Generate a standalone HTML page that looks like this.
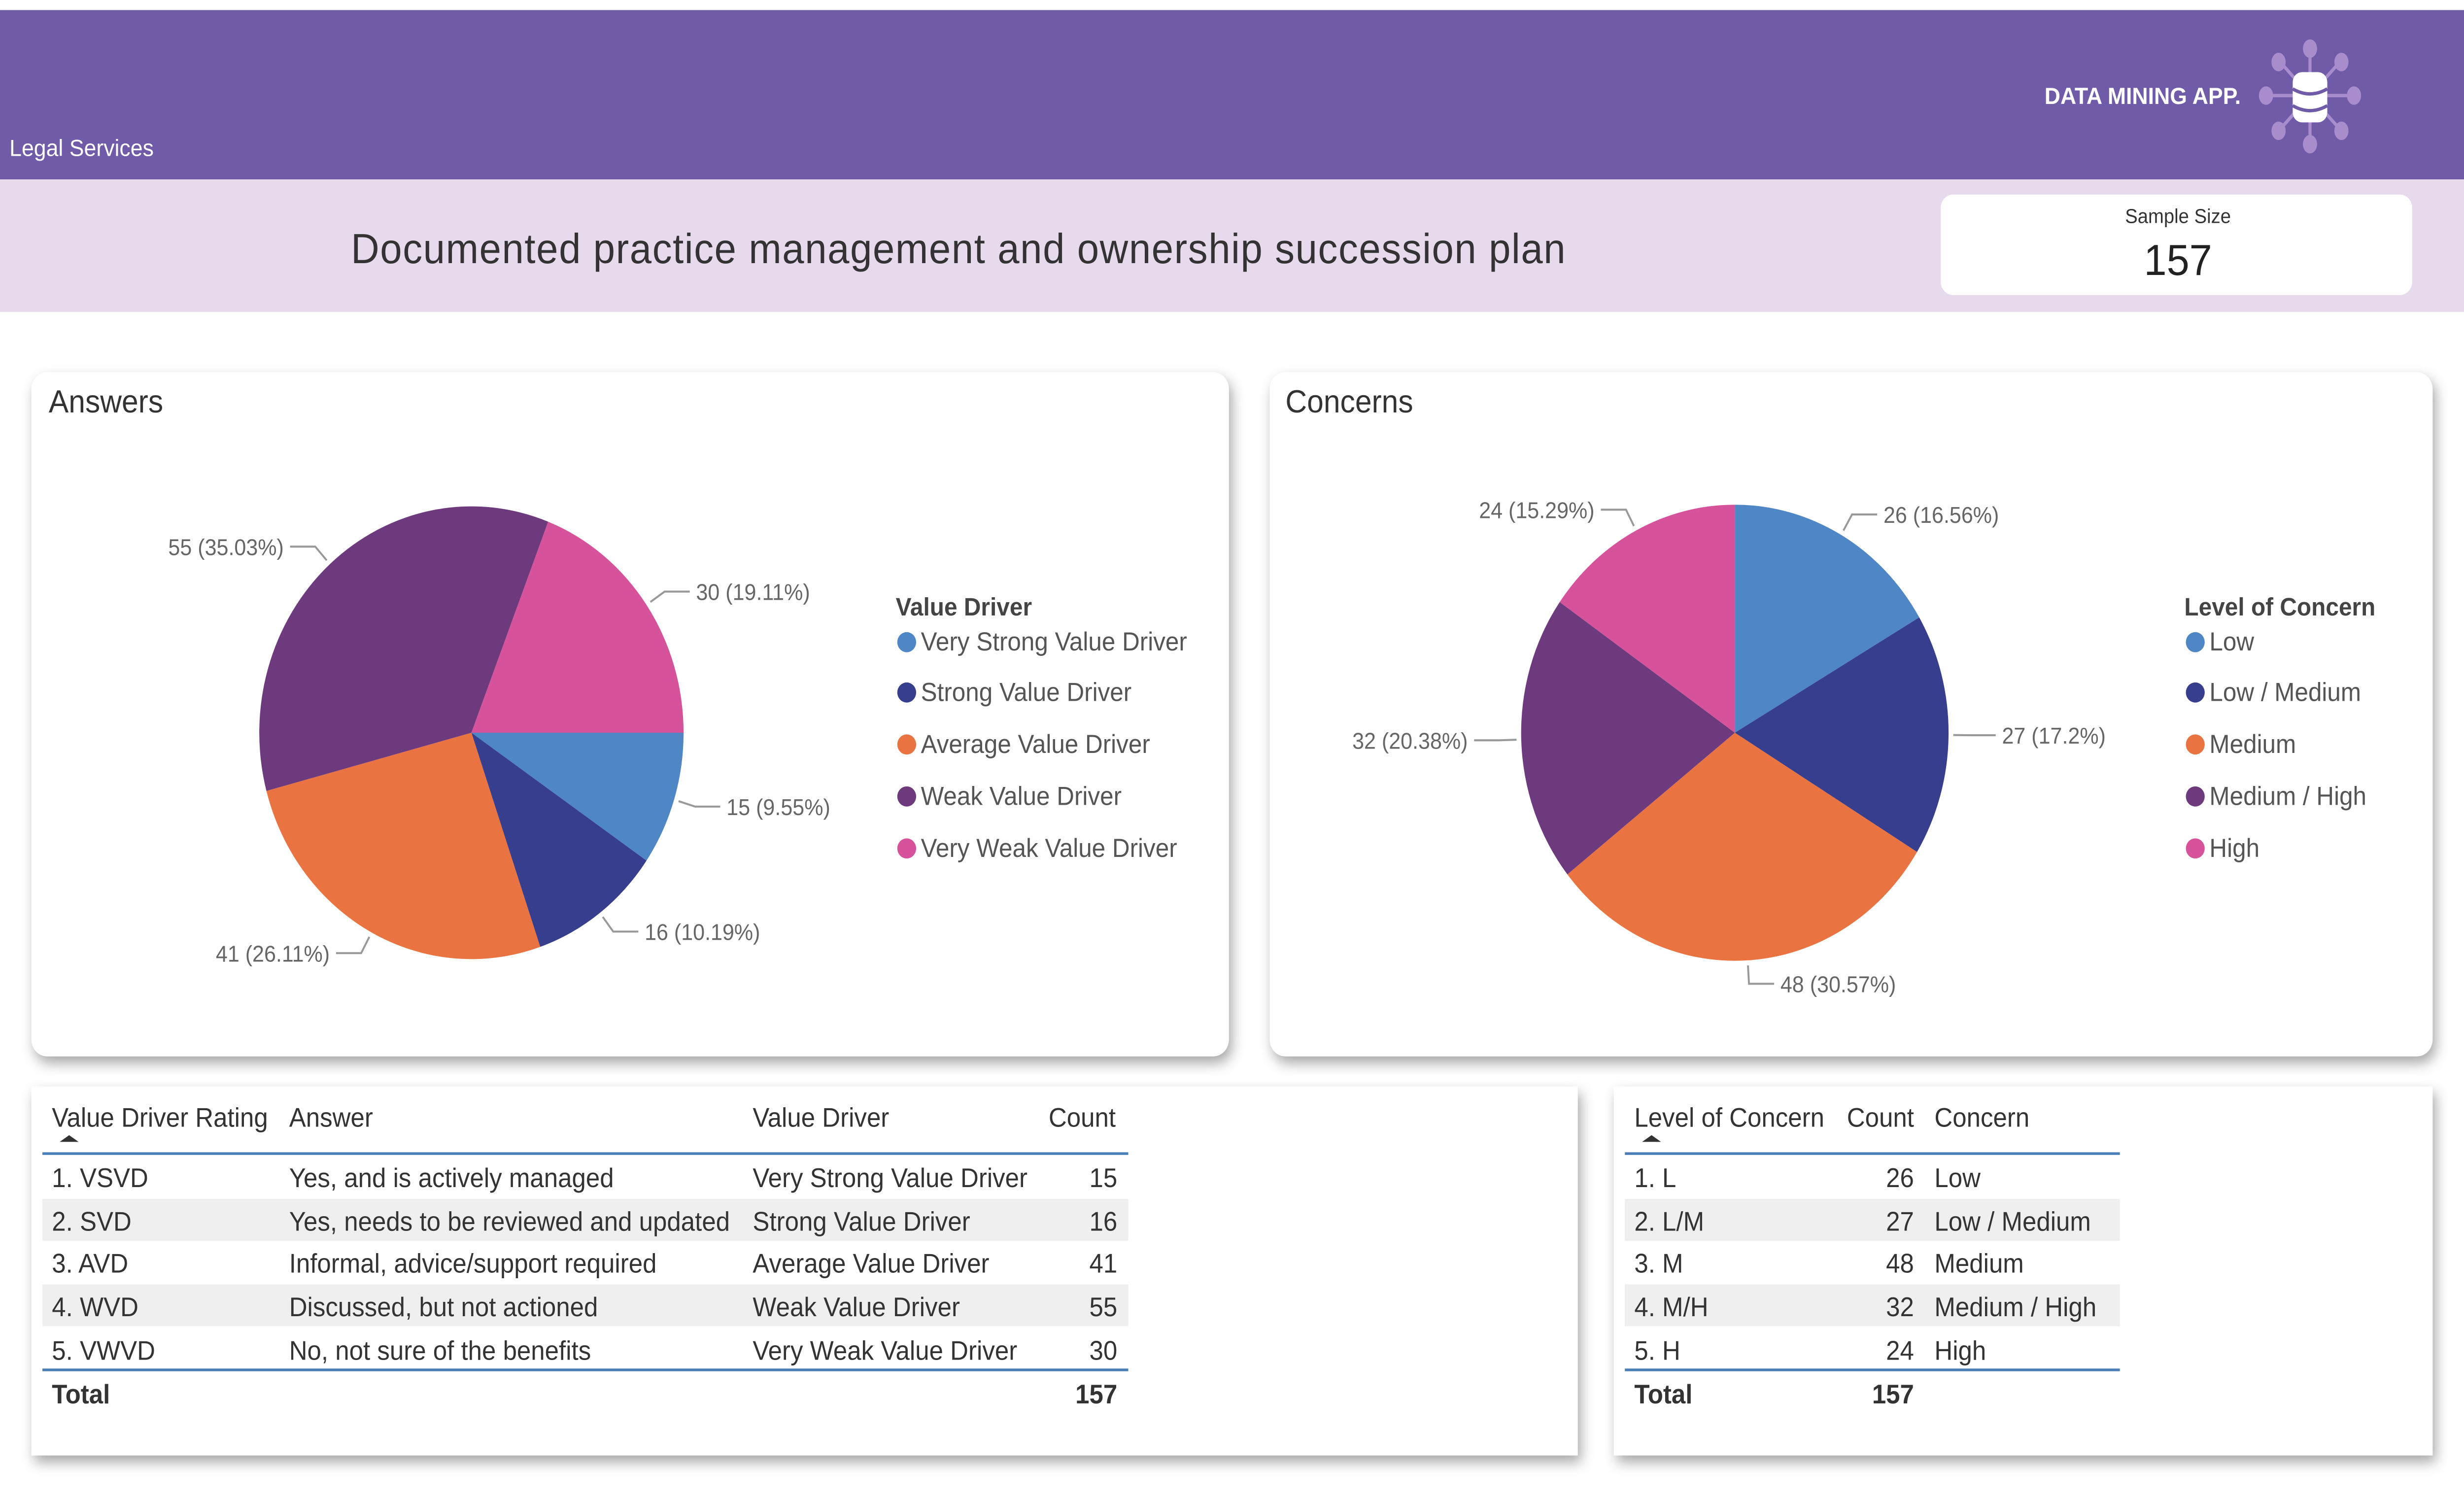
<!DOCTYPE html>
<html><head><meta charset="utf-8"><style>
html,body{margin:0;padding:0;background:#fff;overflow:hidden;width:100%;height:100%}
svg{display:block;font-family:"Liberation Sans",sans-serif;position:fixed;left:0;top:0;width:100vw;height:100vh}
</style></head><body>
<svg id="root" viewBox="0 0 1568 894" preserveAspectRatio="none">
<defs>
<filter id="sh" x="-5%" y="-5%" width="110%" height="115%"><feDropShadow dx="2" dy="4" stdDeviation="4" flood-color="#000" flood-opacity="0.35"/></filter>
</defs>
<rect x="0" y="0" width="1568" height="894" fill="#fff"/>
<g>
<rect x="0" y="6" width="1568" height="101" fill="#705BA8"/>
<text x="6" y="93" font-size="14" fill="#fff">Legal Services</text>
<text x="1426" y="62" font-size="14" font-weight="bold" fill="#fff" text-anchor="end">DATA MINING APP.</text>
<g stroke="#A98CCB" stroke-width="2" fill="#A98CCB">
<line x1="1470" y1="30" x2="1470" y2="84"/><line x1="1443" y1="57" x2="1497" y2="57"/>
<line x1="1452" y1="38" x2="1488" y2="76"/><line x1="1488" y1="38" x2="1452" y2="76"/>
<ellipse cx="1470" cy="29" rx="3.5" ry="4.5"/><ellipse cx="1470" cy="86" rx="3.5" ry="4.5"/>
<ellipse cx="1442" cy="57" rx="3.5" ry="4.5"/><ellipse cx="1498" cy="57" rx="3.5" ry="4.5"/>
<ellipse cx="1450" cy="37" rx="3.5" ry="4.5"/><ellipse cx="1490" cy="37" rx="3.5" ry="4.5"/>
<ellipse cx="1450" cy="78" rx="3.5" ry="4.5"/><ellipse cx="1490" cy="78" rx="3.5" ry="4.5"/>
<rect x="1459" y="43" width="22" height="30" rx="6" fill="#fff" stroke="none"/>
<path d="M1459 53 q11 6 22 0 M1459 63 q11 6 22 0" stroke="#705BA8" stroke-width="2" fill="none"/>
</g>
</g>
<g>
<rect x="0" y="107" width="1568" height="79" fill="#E6DAEC"/>
<text x="610" y="157" font-size="25" fill="#333" text-anchor="middle" letter-spacing="0.5">Documented practice management and ownership succession plan</text>
<rect x="1235" y="116" width="300" height="60" rx="8" fill="#fff"/>
<text x="1386" y="133" font-size="12" fill="#333" text-anchor="middle">Sample Size</text>
<text x="1386" y="164" font-size="26" fill="#222" text-anchor="middle">157</text>
</g>
<rect x="20" y="222" width="762" height="408" rx="10" fill="#fff" filter="url(#sh)"/>
<text x="31" y="246" font-size="19" fill="#333">Answers</text>
<rect x="808" y="222" width="740" height="408" rx="10" fill="#fff" filter="url(#sh)"/>
<text x="818" y="246" font-size="19" fill="#333">Concerns</text>
<g id="pies"></g>
<rect x="20" y="648" width="984" height="220" fill="#fff" filter="url(#sh)"/>
<rect x="1027" y="648" width="521" height="220" fill="#fff" filter="url(#sh)"/>
<g id="tables" font-size="16" fill="#333"></g>
</svg>
<script>
const NS='http://www.w3.org/2000/svg';
const colors=['#4E86C6','#373E8E','#E97442','#6E3A7E','#D6539C'];
const ansLabels=['Very Strong Value Driver','Strong Value Driver','Average Value Driver','Weak Value Driver','Very Weak Value Driver'];
const ansValues=[15,16,41,55,30];
const conLabels=['Low','Low / Medium','Medium','Medium / High','High'];
const conValues=[26,27,48,32,24];
const ansRatings=['1. VSVD','2. SVD','3. AVD','4. WVD','5. VWVD'];
const ansAnswers=['Yes, and is actively managed','Yes, needs to be reviewed and updated','Informal, advice/support required','Discussed, but not actioned','No, not sure of the benefits'];
const conLevels=['1. L','2. L/M','3. M','4. M/H','5. H'];
function mk(tag,attrs,parent,txt){const e=document.createElementNS(NS,tag);for(const k in attrs)e.setAttribute(k,attrs[k]);if(txt!==undefined)e.textContent=txt;parent.appendChild(e);return e;}
const pies=document.getElementById('pies');
function pie(cx,cy,r,values,startDeg,labels,legendX,legendTitle,name){
  const g=mk('g',{},pies);
  
  
  const total=values.reduce((a,b)=>a+b,0);
  let a=startDeg*Math.PI/180;
  values.forEach((v,i)=>{
    const da=v/total*2*Math.PI, a2=a+da;
    const x1=cx+r*Math.cos(a),y1=cy+r*Math.sin(a),x2=cx+r*Math.cos(a2),y2=cy+r*Math.sin(a2);
    const p=mk('path',{d:`M${cx} ${cy}L${x1} ${y1}A${r} ${r} 0 ${da>Math.PI?1:0} 1 ${x2} ${y2}Z`,fill:colors[i]},g);
    
    
    const m=(a+a2)/2, dx=Math.cos(m), dy=Math.sin(m);
    const px=cx+(r+3)*dx, py=cy+(r+3)*dy, qx=cx+(r+14)*dx, qy=cy+(r+14)*dy;
    const side=dx>=0?1:-1, ex=qx+side*16;
    mk('path',{d:`M${px} ${py}L${qx} ${qy}L${ex} ${qy}`,stroke:'#999','stroke-width':1.2,fill:'none'},g);
    const t=mk('text',{x:ex+side*4,y:qy+5,'font-size':13.5,fill:'#666','text-anchor':side>0?'start':'end'},g,`${v} (${+(v/total*100).toFixed(2)}%)`);
    
    
    a=a2;
  });
  const lt=mk('text',{x:legendX,y:367,'font-size':15,'font-weight':'bold',fill:'#444'},g,legendTitle);
  
  
  labels.forEach((l,i)=>{
    const y=[388,418,449,480,511][i];
    const le=mk('g',{},g);
    
    
    mk('circle',{cx:legendX+7,cy:y-5,r:6,fill:colors[i]},le);
    mk('text',{x:legendX+16,y:y,'font-size':15.5,fill:'#555'},le,l);
  });
}
pie(300,437,135,ansValues,0,ansLabels,570,'Value Driver','answers');
pie(1104,437,136,conValues,-90,conLabels,1390,'Level of Concern','concerns');
const tb=document.getElementById('tables');
const rowsY=[708,734,759,785,811];
function table(x0,x1,cols,rowsFn,total,totalX,name){
  const g=mk('g',{},tb);
  
  
  [1,3].forEach(i=>mk('rect',{x:x0,y:rowsY[i]-19,width:x1-x0,height:25,fill:'#EFEFEF'},g));
  cols.forEach(c=>mk('text',{x:c[0],y:672,'text-anchor':c[2]||'start'},g,c[1]));
  mk('path',{d:`M${x0+11} 681l6 -4l6 4z`,fill:'#333'},g);
  mk('line',{x1:x0,y1:688,x2:x1,y2:688,stroke:'#4A7FB8','stroke-width':1.6},g);
  mk('line',{x1:x0,y1:817,x2:x1,y2:817,stroke:'#4A7FB8','stroke-width':1.6},g);
  rowsY.forEach((y,i)=>rowsFn(g,y,i));
  mk('text',{x:x0+6,y:837,'font-weight':'bold'},g,'Total');
  mk('text',{x:totalX,y:837,'font-weight':'bold','text-anchor':'end'},g,total);
}
table(27,718,[[33,'Value Driver Rating'],[184,'Answer'],[479,'Value Driver'],[710,'Count','end']],(g,y,i)=>{
  mk('text',{x:33,y:y},g,ansRatings[i]);mk('text',{x:184,y:y},g,ansAnswers[i]);
  mk('text',{x:479,y:y},g,ansLabels[i]);mk('text',{x:711,y:y,'text-anchor':'end'},g,ansValues[i]);
},ansValues.reduce((a,b)=>a+b,0),711,'answers-table');
table(1034,1349,[[1040,'Level of Concern'],[1218,'Count','end'],[1231,'Concern']],(g,y,i)=>{
  mk('text',{x:1040,y:y},g,conLevels[i]);mk('text',{x:1218,y:y,'text-anchor':'end'},g,conValues[i]);
  mk('text',{x:1231,y:y},g,conLabels[i]);
},conValues.reduce((a,b)=>a+b,0),1218,'concerns-table');
</script>
</body></html>
